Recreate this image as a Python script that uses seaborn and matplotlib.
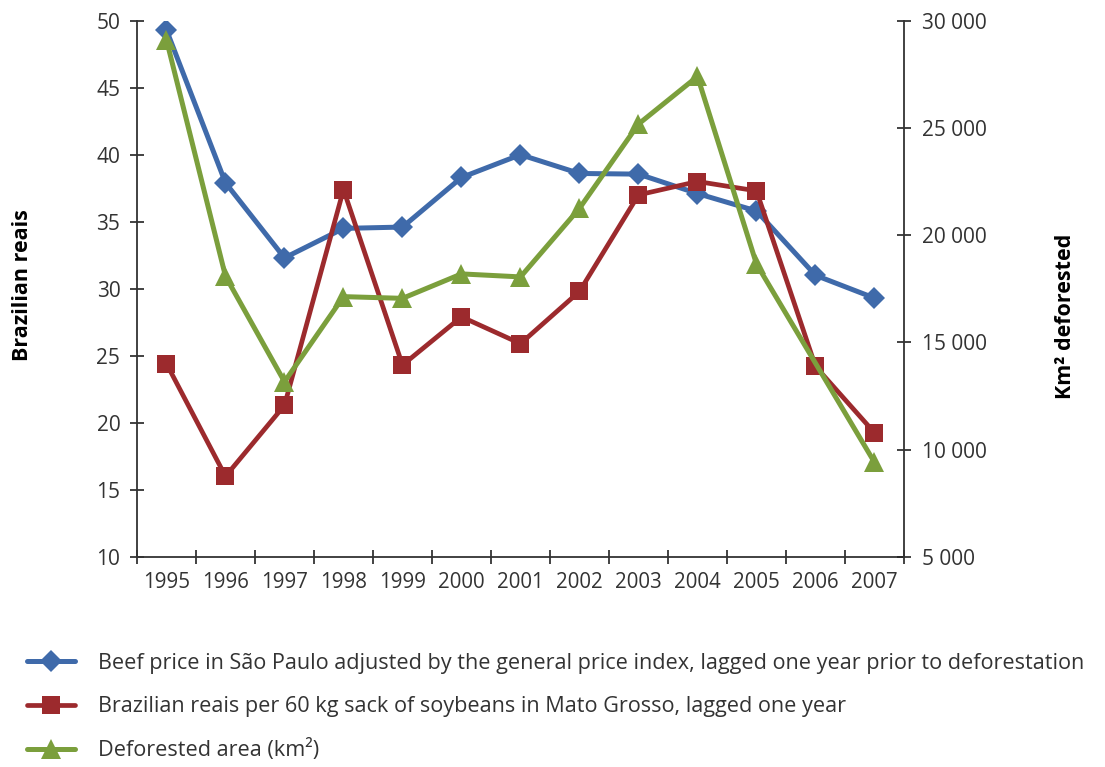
import numpy as np
import pandas as pd
import matplotlib
matplotlib.use("Agg")
import matplotlib.pyplot as plt
from matplotlib.ticker import FixedLocator, FuncFormatter, NullFormatter
import seaborn as sns

years = [1995, 1996, 1997, 1998, 1999, 2000, 2001, 2002, 2003, 2004, 2005, 2006, 2007]
beef_price = [49.3, 37.9, 32.3, 34.5, 34.6, 38.3, 40.0, 38.6, 38.55, 37.1, 35.8, 31.0, 29.3]
soy_price = [24.4, 16.0, 21.3, 37.4, 24.3, 27.9, 25.9, 29.8, 37.0, 38.0, 37.3, 24.2, 19.25]
deforested = [29100, 18080, 13160, 17130, 17050, 18190, 18050, 21250, 25180, 27400, 18650, np.nan, 9400]

left_ticks = [10, 15, 20, 25, 30, 35, 40, 45, 50]
right_ticks = [5000, 10000, 15000, 20000, 25000, 30000]

label_beef = "Beef price in São Paulo adjusted by the general price index, lagged one year prior to deforestation"
label_soy = "Brazilian reais per 60 kg sack of soybeans in Mato Grosso, lagged one year"
label_def = "Deforested area (km²)"

c_blue = "#3F6AAA"
c_red = "#9C2A2D"
c_green = "#7B9F3C"
txt = "#333333"

sns.set_theme(style="white")
plt.rcParams['font.family'] = ['Open Sans', 'DejaVu Sans']

df = pd.DataFrame({"year": years, "beef": beef_price, "soy": soy_price, "def": deforested})

fig = plt.figure(figsize=(11.05, 7.67), dpi=100)
ax = fig.add_axes([137/1105, 1-556.7/767, (904-137)/1105, (556.7-20.7)/767])
ax2 = ax.twinx()

sns.lineplot(data=df, x="year", y="beef", ax=ax, color=c_blue, lw=3.6, marker="D",
             markersize=11, markeredgewidth=0, label=label_beef, legend=False)
sns.lineplot(data=df, x="year", y="soy", ax=ax, color=c_red, lw=3.4, marker="s",
             markersize=12.5, markeredgewidth=0, label=label_soy, legend=False)
sns.lineplot(data=df.dropna(subset=["def"]), x="year", y="def", ax=ax2, color=c_green, lw=3.6,
             marker="^", markersize=14, markeredgewidth=0, label=label_def, legend=False)

ax.set_xlim(years[0]-0.5, years[-1]+0.5)
ax.set_ylim(10, 50)
ax2.set_ylim(5000, 30000)

ax.xaxis.set_major_locator(FixedLocator([y - 0.5 for y in years] + [years[-1] + 0.5]))
ax.xaxis.set_major_formatter(NullFormatter())
ax.xaxis.set_minor_locator(FixedLocator(years))
ax.xaxis.set_minor_formatter(FuncFormatter(lambda v, p: f"{int(round(v))}"))
ax.tick_params(axis="x", which="major", direction="inout", length=10, width=1.2, color="#222222", bottom=True)
ax.tick_params(axis="x", which="minor", length=0, pad=11, labelsize=14.8, labelcolor=txt, bottom=True)

ax.set_yticks(left_ticks)
ax.tick_params(axis="y", direction="inout", length=10, width=1.2, color="#222222", pad=7,
               labelsize=15, labelcolor=txt, left=True)
ax2.set_yticks(right_ticks)
ax2.yaxis.set_major_formatter(FuncFormatter(lambda v, p: f"{v:,.0f}".replace(",", " ")))
ax2.tick_params(axis="y", direction="inout", length=10, width=1.2, color="#222222", pad=8,
                labelsize=15, labelcolor=txt, right=True)

for a in (ax, ax2):
    a.grid(False)
    a.spines["top"].set_visible(False)
    for s in ("left", "right", "bottom"):
        a.spines[s].set_color("#333333")
        a.spines[s].set_linewidth(1.3)
ax.spines["right"].set_visible(False)
ax2.spines["left"].set_visible(False)
ax2.spines["bottom"].set_visible(False)

ax.set_xlabel("")
ax.set_ylabel("Brazilian reais", fontsize=15.5, fontweight="bold", color="black", labelpad=0)
ax.yaxis.set_label_coords((33 - 137)/767, (556.7 - 285)/536)
ax2.set_ylabel("Km² deforested", fontsize=15.5, fontweight="bold", color="black", labelpad=0)
ax2.yaxis.set_label_coords(1 + (1055 - 904)/767, (556.7 - 316)/536)

h1, l1 = ax.get_legend_handles_labels()
h2, l2 = ax2.get_legend_handles_labels()
fig.legend(h1 + h2, l1 + l2, loc="upper left", bbox_to_anchor=(27/1105, 1-653/767),
           frameon=False, fontsize=15.6, labelspacing=1.02, handlelength=2.2,
           handletextpad=1.1, borderpad=0, borderaxespad=0, labelcolor=txt)

fig.savefig("out.png", dpi=100)
